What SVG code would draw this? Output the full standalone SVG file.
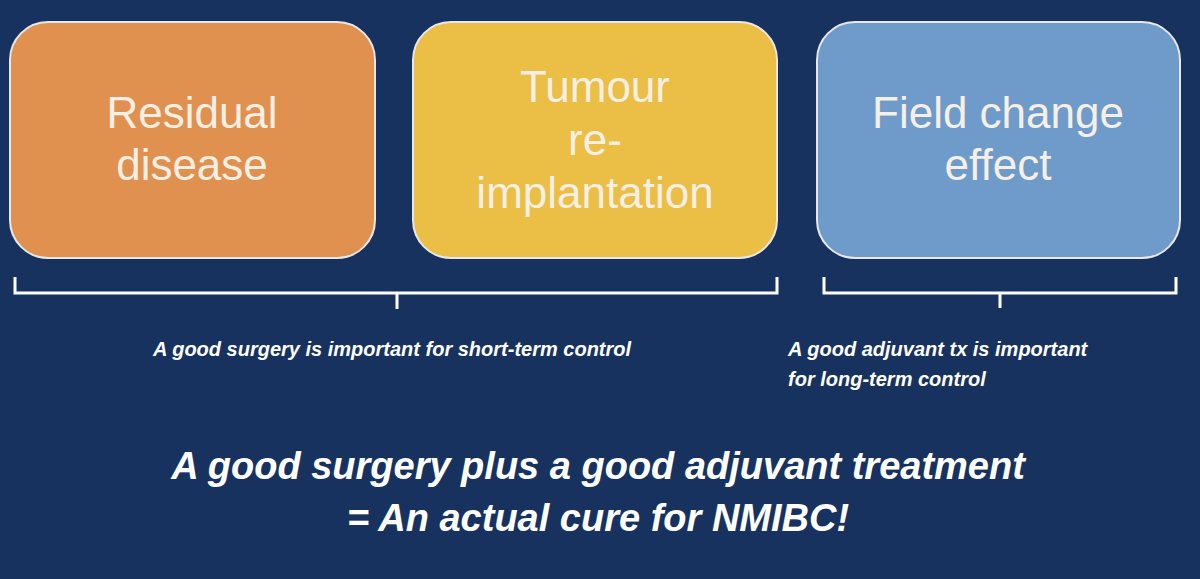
<svg xmlns="http://www.w3.org/2000/svg" width="1200" height="579" viewBox="0 0 1200 579">
<style>
.box{stroke:#e8e8e8;stroke-width:2}
.bt{font-family:"Liberation Sans",Arial,sans-serif;font-size:44px;fill:#f6efe4;text-anchor:middle}
.br{fill:none;stroke:#ffffff;stroke-width:3}
.sm{font-family:"Liberation Sans",Arial,sans-serif;font-size:20px;font-weight:bold;font-style:italic;fill:#ffffff}
.bg{font-family:"Liberation Sans",Arial,sans-serif;font-size:38px;font-weight:bold;font-style:italic;fill:#ffffff;text-anchor:middle}
</style>
<rect width="1200" height="579" fill="#17325f"/>
<g id="residual"><rect class="box" x="10" y="22" width="365" height="236" rx="38" fill="#e0914f"/>
<text class="bt" x="192" y="128">Residual</text><text class="bt" x="192" y="180">disease</text></g>
<g id="tumour"><rect class="box" x="413" y="22" width="364" height="236" rx="38" fill="#ebbe45"/>
<text class="bt" x="595" y="102">Tumour</text><text class="bt" x="595" y="155">re-</text><text class="bt" x="595" y="208">implantation</text></g>
<g id="field"><rect class="box" x="817" y="22" width="363" height="236" rx="38" fill="#6f9bcb"/>
<text class="bt" x="998" y="128">Field change</text><text class="bt" x="998" y="180">effect</text></g>
<g id="connectors">
<path class="br" d="M15 277V293H777V277M397 293V309"/>
<path class="br" d="M824 277V293H1176V277M1000 293V308"/>
</g>
<text class="sm" x="392" y="356" text-anchor="middle">A good surgery is important for short-term control</text>
<text class="sm" x="788" y="356">A good adjuvant tx is important</text>
<text class="sm" x="788" y="386">for long-term control</text>
<text class="bg" x="598" y="479">A good surgery plus a good adjuvant treatment</text>
<text class="bg" x="598" y="531">= An actual cure for NMIBC!</text>
</svg>
